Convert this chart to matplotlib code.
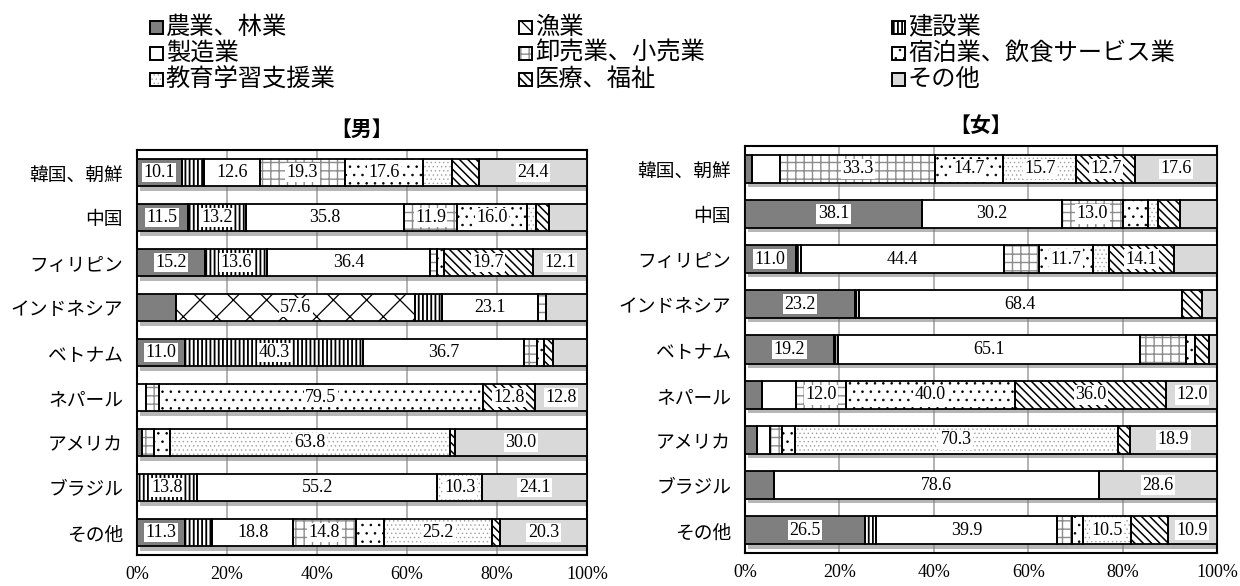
import matplotlib
matplotlib.use("Agg")
import matplotlib.pyplot as plt
import matplotlib.patheffects as pe
from matplotlib.patches import Rectangle
import numpy as np

plt.rcParams['font.family'] = ['Noto Sans CJK JP', 'DejaVu Sans']
plt.rcParams['hatch.linewidth'] = 0.9

# ---------------- data ----------------
countries = ['韓国、朝鮮', '中国', 'フィリピン', 'インドネシア', 'ベトナム',
             'ネパール', 'アメリカ', 'ブラジル', 'その他']
industries = ['農業、林業', '漁業', '建設業', '製造業', '卸売業、小売業',
              '宿泊業、飲食サービス業', '教育学習支援業', '医療、福祉', 'その他']

male_agri  = [10.1, 11.5, 15.2, 9.5, 11.0, 0.0, 1.1, 0.0, 11.3]
male_fish  = [0.0, 0.0, 0.0, 57.6, 0.0, 0.0, 0.0, 0.0, 0.0]
male_const = [5.1, 13.2, 13.6, 6.6, 40.3, 0.0, 0.0, 13.8, 6.3]
male_manuf = [12.6, 35.8, 36.4, 23.1, 36.7, 2.3, 0.0, 55.2, 18.8]
male_trade = [19.3, 11.9, 1.5, 2.0, 3.0, 3.0, 2.7, 0.0, 14.8]
male_accom = [17.6, 16.0, 1.5, 0.0, 1.6, 79.5, 3.7, 0.0, 6.6]
male_edu   = [6.6, 1.9, 0.0, 0.0, 0.0, 0.0, 63.8, 10.3, 25.2]
male_med   = [6.2, 3.1, 19.7, 0.0, 1.9, 12.8, 1.1, 0.0, 1.8]
male_other = [24.4, 8.5, 12.1, 9.8, 7.8, 12.8, 30.0, 24.1, 20.3]

female_agri  = [1.5, 38.1, 11.0, 23.2, 19.2, 4.0, 2.7, 7.1, 26.5]
female_fish  = [0.0, 0.0, 0.0, 0.0, 0.0, 0.0, 0.0, 0.0, 0.0]
female_const = [0.0, 0.0, 1.1, 0.8, 0.7, 0.0, 0.0, 0.0, 2.4]
female_manuf = [6.1, 30.2, 44.4, 68.4, 65.1, 8.0, 2.7, 78.6, 39.9]
female_trade = [33.3, 13.0, 7.5, 0.0, 9.9, 12.0, 2.7, 0.0, 3.4]
female_accom = [14.7, 5.4, 11.7, 0.0, 1.9, 40.0, 2.7, 0.0, 2.4]
female_edu   = [15.7, 2.3, 3.6, 0.0, 0.0, 0.0, 70.3, 0.0, 10.5]
female_med   = [12.7, 4.7, 14.1, 4.2, 2.9, 36.0, 2.7, 0.0, 8.1]
female_other = [17.6, 7.9, 9.4, 3.2, 1.8, 12.0, 18.9, 28.6, 10.9]

xtick_vals = [0, 20, 40, 60, 80, 100]
xtick_labels = ['0%', '20%', '40%', '60%', '80%', '100%']

male_series = [male_agri, male_fish, male_const, male_manuf, male_trade,
               male_accom, male_edu, male_med, male_other]
female_series = [female_agri, female_fish, female_const, female_manuf, female_trade,
                 female_accom, female_edu, female_med, female_other]

# style per industry: face, hatch, hatch colour, hatch linewidth
styles = [
    ('#7f7f7f', '', None, 0.9),
    ('white', 'x', 'black', 0.9),
    ('white', '||||', 'black', 1.3),
    ('white', '', None, 0.9),
    ('white', '++', '#8c8c8c', 1.0),
    ('white', '..', 'black', 0.6),
    ('white', '....', '#a0a0a0', 0.5),
    ('white', '\\\\\\\\', 'black', 1.1),
    ('#d9d9d9', '', None, 0.9),
]

W, H = 1240, 586
fig = plt.figure(figsize=(W / 100, H / 100), dpi=100)

SERIF = ['Liberation Serif', 'DejaVu Serif']


def px_axes(x0, y0, x1, y1):
    return fig.add_axes([x0 / W, 1 - y1 / H, (x1 - x0) / W, (y1 - y0) / H])


def draw_panel(ax, series, title):
    n = len(countries)
    ypos = np.arange(n)
    data = np.array(series, dtype=float)          # industries x countries
    totals = data.sum(axis=0)
    pct = data / totals * 100.0
    h = 0.62
    # shadow band behind each bar
    ax.barh(ypos, [100] * n, left=0, height=h, color='white', edgecolor='none',
            zorder=2,
            path_effects=[pe.withSimplePatchShadow(offset=(2, -3),
                                                   shadow_rgbFace='#7a7a7a',
                                                   alpha=0.55),
                          pe.Normal()])
    left = np.zeros(n)
    for k, (face, hatch, hcol, hlw) in enumerate(styles):
        w = pct[k]
        mask = data[k] > 0
        yy = ypos[mask]
        ww = w[mask]
        ll = left[mask]
        with plt.rc_context({'hatch.linewidth': hlw}):
            ax.barh(yy, ww, left=ll, height=h, color=face,
                    edgecolor=(hcol if hcol else face), hatch=hatch,
                    linewidth=0, zorder=3)
        ax.barh(yy, ww, left=ll, height=h, fill=False, edgecolor='black',
                linewidth=1.3, zorder=4)
        for i in range(n):
            if data[k][i] >= 10:
                ax.text(left[i] + w[i] / 2, ypos[i], f'{data[k][i]:.1f}',
                        ha='center', va='center', fontsize=13, family=SERIF,
                        zorder=6,
                        bbox=dict(boxstyle='square,pad=0.08', fc='white', ec='none'))
        left = left + w
    ax.set_xlim(0, 100)
    ax.set_ylim(n - 0.5, -0.5)
    ax.set_xticks(xtick_vals)
    ax.set_xticklabels(xtick_labels, family=SERIF, fontsize=13)
    ax.set_yticks(ypos)
    ax.set_yticklabels(countries, fontsize=13.5)
    ax.tick_params(axis='both', length=0)
    ax.tick_params(axis='x', pad=8)
    ax.tick_params(axis='y', pad=10)
    ax.xaxis.grid(True, color='#a6a6a6', linewidth=1.2, zorder=0)
    ax.set_axisbelow(True)
    for s in ax.spines.values():
        s.set_linewidth(1.5)
        s.set_color('black')
    ax.set_title(title, fontsize=15, fontweight='bold', pad=10)


ax1 = px_axes(137, 150, 587, 555)
draw_panel(ax1, male_series, '【男】')
ax2 = px_axes(745, 146, 1217, 553)
draw_panel(ax2, female_series, '【女】')

# ---------------- legend (row-major, 3 columns) ----------------
col_x = [150, 519, 892]
row_y = [27, 53, 79]
for k, name in enumerate(industries):
    r, c = divmod(k, 3)
    face, hatch, hcol, hlw = styles[k]
    x0 = col_x[c]
    yc = row_y[r]
    with plt.rc_context({'hatch.linewidth': hlw}):
        rect_fill = Rectangle((x0 / W, 1 - (yc + 6.5) / H), 13 / W, 13 / H,
                              transform=fig.transFigure, facecolor=face,
                              edgecolor=(hcol if hcol else face), hatch=hatch,
                              linewidth=0)
    rect_edge = Rectangle((x0 / W, 1 - (yc + 6.5) / H), 13 / W, 13 / H,
                          transform=fig.transFigure, fill=False,
                          edgecolor='black', linewidth=1.4)
    fig.add_artist(rect_fill)
    fig.add_artist(rect_edge)
    fig.text((x0 + 16) / W, 1 - yc / H, name, fontsize=17.5, ha='left', va='center')

fig.savefig('out.png', dpi=100)
